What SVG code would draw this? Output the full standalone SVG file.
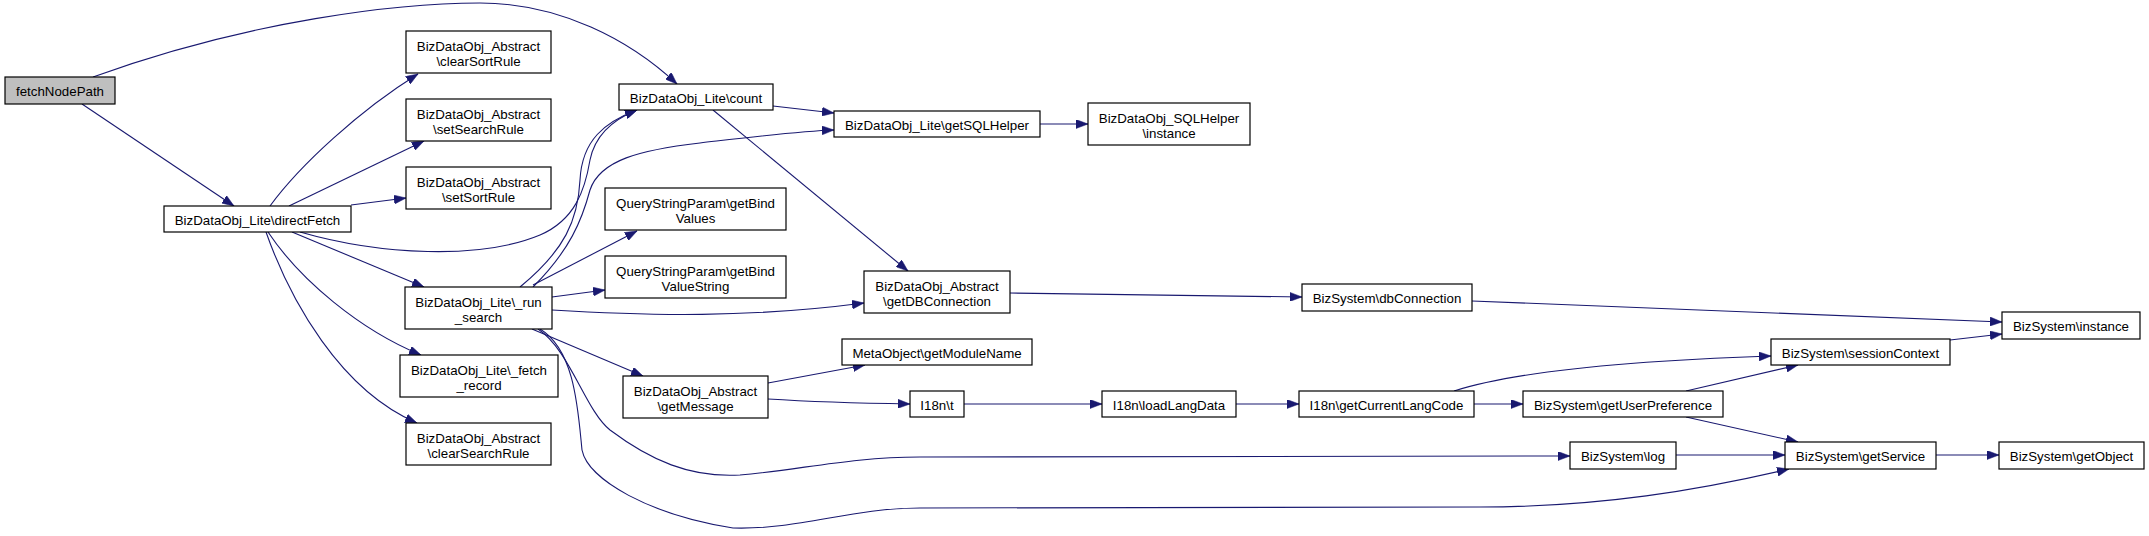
<svg xmlns="http://www.w3.org/2000/svg" width="2149" height="536" viewBox="0 0 2149 536">
<style>
.n rect{fill:#fff;stroke:#000;stroke-width:1.2}
.n.root rect{fill:#bfbfbf}
.n text{font-family:"Liberation Sans",Arial,Helvetica,sans-serif;font-size:13.3px;fill:#000;text-anchor:middle}
#edges path{fill:none;stroke:#191970;stroke-width:1.1;marker-end:url(#ah)}
</style>
<defs>
<marker id="ah" markerUnits="userSpaceOnUse" markerWidth="13" markerHeight="9" refX="12" refY="4.5" orient="auto">
<path d="M0,0 L12,4.5 L0,9 z" fill="#191970" stroke="#191970" stroke-width="0.5"/>
</marker>
</defs>
<rect x="0" y="0" width="2149" height="536" fill="#fff"/>
<g id="edges">
<path d="M82,104 L234,206"/>
<path d="M93,77 C250,20 400,3 480,3 C560,3 630,40 677,84"/>
<path d="M270,206 C300,165 360,110 418,74"/>
<path d="M289,206 L424,141"/>
<path d="M351,205 L406,198"/>
<path d="M300,232 C380,255 480,260 540,235 C575,220 585,190 590,160 C595,135 612,120 637,110"/>
<path d="M292,232 L424,287"/>
<path d="M268,232 C300,280 360,330 421,355"/>
<path d="M266,232 C290,300 340,390 417,423"/>
<path d="M520,287 C565,250 578,220 580,180 C582,140 605,122 637,110"/>
<path d="M533,287 C570,250 582,220 590,190 C600,160 640,150 700,143 C760,136 800,131 834,130"/>
<path d="M533,285 L637,231"/>
<path d="M552,297 L605,290"/>
<path d="M552,310 C650,316 750,318 864,303"/>
<path d="M532,329 L643,376"/>
<path d="M538,329 C570,350 585,410 610,430 C650,460 690,478 740,475 C800,470 850,457 920,457 L1570,456"/>
<path d="M540,329 C575,350 578,410 582,450 C588,480 650,515 733,528 C800,530 850,508 920,508 L1480,507 C1600,507 1700,490 1789,469"/>
<path d="M773,106 L834,113"/>
<path d="M713,110 L908,271"/>
<path d="M1040,124 L1088,124"/>
<path d="M1010,293 C1100,294 1200,296 1302,297"/>
<path d="M1472,301 L2002,322"/>
<path d="M768,383 L865,365"/>
<path d="M768,399 C800,401 850,403 910,404"/>
<path d="M964,404 L1102,404"/>
<path d="M1236,404 L1299,404"/>
<path d="M1454,391 C1520,370 1650,360 1771,356"/>
<path d="M1474,404 L1523,404"/>
<path d="M1686,391 L1798,365"/>
<path d="M1686,417 L1798,442"/>
<path d="M1950,340 L2002,334"/>
<path d="M1676,455 L1785,455"/>
<path d="M1936,455 L1999,455"/>
</g>
<g id="fetchNodePath" class="n root"><rect x="5" y="77" width="110" height="27"/><text x="60" y="96">fetchNodePath</text></g>
<g id="directFetch" class="n"><rect x="164" y="206" width="187" height="26"/><text x="257.5" y="225">BizDataObj_Lite\directFetch</text></g>
<g id="clearSortRule" class="n"><rect x="406" y="31" width="145" height="42"/><text x="478.5" y="51">BizDataObj_Abstract</text><text x="478.5" y="66">\clearSortRule</text></g>
<g id="setSearchRule" class="n"><rect x="406" y="99" width="145" height="42"/><text x="478.5" y="119">BizDataObj_Abstract</text><text x="478.5" y="134">\setSearchRule</text></g>
<g id="setSortRule" class="n"><rect x="406" y="167" width="145" height="42"/><text x="478.5" y="187">BizDataObj_Abstract</text><text x="478.5" y="202">\setSortRule</text></g>
<g id="run_search" class="n"><rect x="405" y="287" width="147" height="42"/><text x="478.5" y="307">BizDataObj_Lite\_run</text><text x="478.5" y="322">_search</text></g>
<g id="fetch_record" class="n"><rect x="400" y="355" width="158" height="42"/><text x="479" y="375">BizDataObj_Lite\_fetch</text><text x="479" y="390">_record</text></g>
<g id="clearSearchRule" class="n"><rect x="406" y="423" width="145" height="42"/><text x="478.5" y="443">BizDataObj_Abstract</text><text x="478.5" y="458">\clearSearchRule</text></g>
<g id="count" class="n"><rect x="619" y="84" width="154" height="26"/><text x="696" y="103">BizDataObj_Lite\count</text></g>
<g id="getSQLHelper" class="n"><rect x="834" y="111" width="206" height="26"/><text x="937" y="130">BizDataObj_Lite\getSQLHelper</text></g>
<g id="sqlhelper_instance" class="n"><rect x="1088" y="103" width="162" height="42"/><text x="1169" y="123">BizDataObj_SQLHelper</text><text x="1169" y="138">\instance</text></g>
<g id="getBindValues" class="n"><rect x="605" y="188" width="181" height="42"/><text x="695.5" y="208">QueryStringParam\getBind</text><text x="695.5" y="223">Values</text></g>
<g id="getBindValueString" class="n"><rect x="605" y="256" width="181" height="42"/><text x="695.5" y="276">QueryStringParam\getBind</text><text x="695.5" y="291">ValueString</text></g>
<g id="getDBConnection" class="n"><rect x="864" y="271" width="146" height="42"/><text x="937" y="291">BizDataObj_Abstract</text><text x="937" y="306">\getDBConnection</text></g>
<g id="getMessage" class="n"><rect x="623" y="376" width="145" height="42"/><text x="695.5" y="396">BizDataObj_Abstract</text><text x="695.5" y="411">\getMessage</text></g>
<g id="getModuleName" class="n"><rect x="842" y="339" width="190" height="26"/><text x="937" y="358">MetaObject\getModuleName</text></g>
<g id="i18n_t" class="n"><rect x="910" y="391" width="54" height="26"/><text x="937" y="410">I18n\t</text></g>
<g id="loadLangData" class="n"><rect x="1102" y="391" width="134" height="26"/><text x="1169" y="410">I18n\loadLangData</text></g>
<g id="dbConnection" class="n"><rect x="1302" y="284" width="170" height="27"/><text x="1387" y="303">BizSystem\dbConnection</text></g>
<g id="getCurrentLangCode" class="n"><rect x="1299" y="391" width="175" height="26"/><text x="1386.5" y="410">I18n\getCurrentLangCode</text></g>
<g id="getUserPreference" class="n"><rect x="1523" y="391" width="200" height="26"/><text x="1623" y="410">BizSystem\getUserPreference</text></g>
<g id="sessionContext" class="n"><rect x="1771" y="339" width="179" height="26"/><text x="1860.5" y="358">BizSystem\sessionContext</text></g>
<g id="bizsystem_instance" class="n"><rect x="2002" y="312" width="138" height="27"/><text x="2071" y="331">BizSystem\instance</text></g>
<g id="log" class="n"><rect x="1570" y="442" width="106" height="27"/><text x="1623" y="461">BizSystem\log</text></g>
<g id="getService" class="n"><rect x="1785" y="442" width="151" height="27"/><text x="1860.5" y="461">BizSystem\getService</text></g>
<g id="getObject" class="n"><rect x="1999" y="442" width="145" height="27"/><text x="2071.5" y="461">BizSystem\getObject</text></g>
</svg>
